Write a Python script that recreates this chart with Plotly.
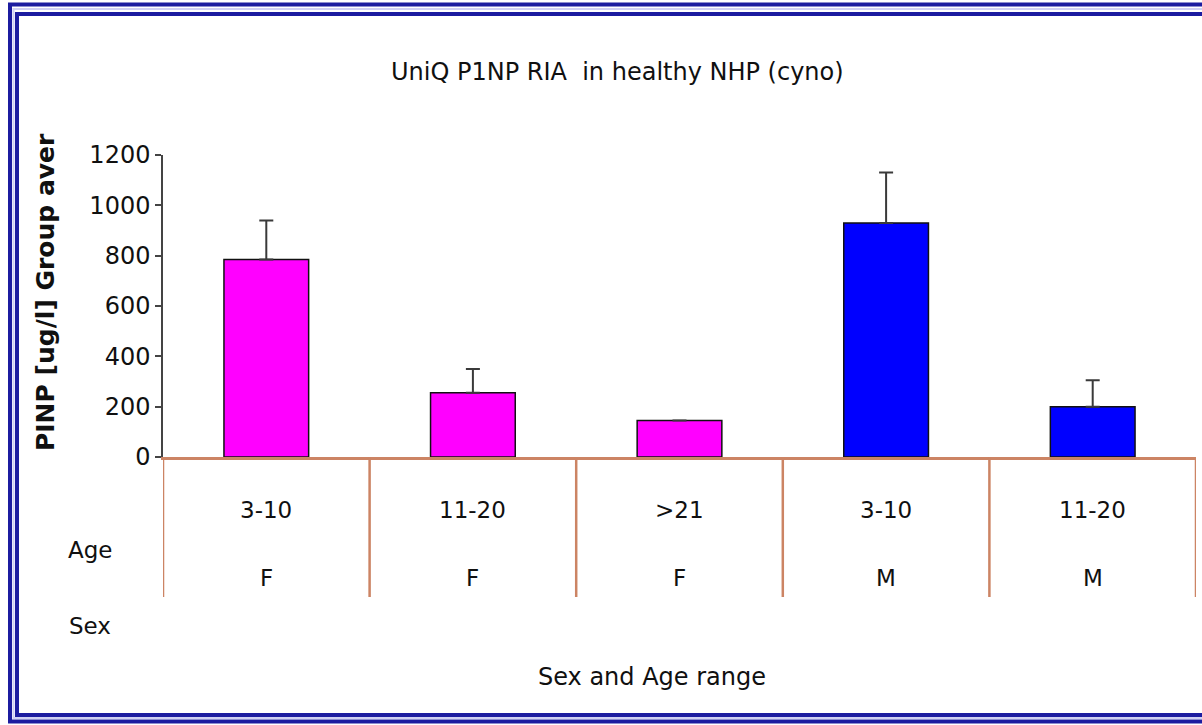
import plotly.graph_objects as go

# ---- data ----
sex = ["F", "F", "F", "M", "M"]
age = ["3-10", "11-20", ">21", "3-10", "11-20"]
means = [785, 255, 145, 930, 200]
err_plus = [155, 95, 0, 200, 105]
sex_colors = {"F": "#ff00ff", "M": "#0000ff"}

title = "UniQ P1NP RIA  in healthy NHP (cyno)"
ytitle = "PINP [ug/l] Group aver"
xtitle = "Sex and Age range"
row_labels = ["Age", "Sex"]
yticks = [0, 200, 400, 600, 800, 1000, 1200]

W, H = 1202, 725
PL, PR, PT, PB = 163, 1196, 155, 457


def px(x):
    return (x - PL) / (PR - PL)


def py(y):
    return (PB - y) / (PB - PT)


FONT = "DejaVu Sans, Liberation Sans, Arial, sans-serif"
TXT = "#101010"
xs = list(range(len(means)))

fig = go.Figure()
fig.add_trace(go.Bar(
    x=xs, y=means,
    marker=dict(color=[sex_colors[s] for s in sex], line=dict(color="#111111", width=1.5)),
    error_y=dict(type="data", array=err_plus, arrayminus=[0] * len(means),
                 symmetric=False, color="#3a3a3a", thickness=2, width=7),
    showlegend=False,
    hoverinfo="skip",
))

shapes = []
# table separators
for b in [i - 0.5 for i in range(len(means) + 1)]:
    shapes.append(dict(type="line", xref="x", yref="paper", x0=b, x1=b,
                       y0=0, y1=py(597), line=dict(color="#cc8464", width=2.5)))
# outer double border (open on the right, as cropped in the reference)
for (x0, y0, y1, lw, col) in [(10, 4.5, 721.5, 4, "#1c1ca0"), (13.5, 9, 718, 2, "#d0d0f4"),
                               (17, 14, 715, 4, "#1c1ca0")]:
    xe = px(W + 30)
    path = "M {a},{b} L {c},{b} L {c},{d} L {a},{d}".format(
        a=xe, b=py(y0), c=px(x0), d=py(y1))
    shapes.append(dict(type="path", xref="paper", yref="paper", path=path,
                       line=dict(color=col, width=lw), layer="above"))


def note(x, y, text, size, xref="paper", angle=0):
    return dict(x=x, y=y, xref=xref, yref="paper", text=text, showarrow=False,
                xanchor="center", yanchor="middle", textangle=angle,
                font=dict(size=size, color=TXT, family=FONT))


ann = []
for i in xs:
    ann.append(note(i, py(510), age[i], 23, xref="x"))
    ann.append(note(i, py(578), sex[i], 23, xref="x"))
ann.append(note(px(90), py(550), row_labels[0], 23))
ann.append(note(px(90), py(626), row_labels[1], 23))
ann.append(note(px(652), py(677), xtitle, 24))
ann.append(note(px(45), py(292), "<b>" + ytitle + "</b>", 25, angle=-90))
ann.append(note(px(617), py(72), title, 24))

fig.update_layout(
    width=W, height=H,
    margin=dict(l=PL, r=W - PR, t=PT, b=H - PB),
    paper_bgcolor="white", plot_bgcolor="white",
    bargap=0.59,
    shapes=shapes, annotations=ann,
    xaxis=dict(range=[-0.5, len(means) - 0.5], showticklabels=False, ticks="",
               showgrid=False, zeroline=False, showline=True,
               linecolor="#cc8464", linewidth=2.5),
    yaxis=dict(range=[0, 1200], tickvals=yticks, ticks="outside", ticklen=6,
               tickcolor="#444444", tickwidth=1.5, showgrid=False, zeroline=False,
               showline=True, linecolor="#444444", linewidth=1.5,
               tickfont=dict(size=24, color=TXT, family=FONT)),
)

fig.write_html("out.html", config={"displayModeBar": False},
               post_script="document.body.style.margin='0px';")
